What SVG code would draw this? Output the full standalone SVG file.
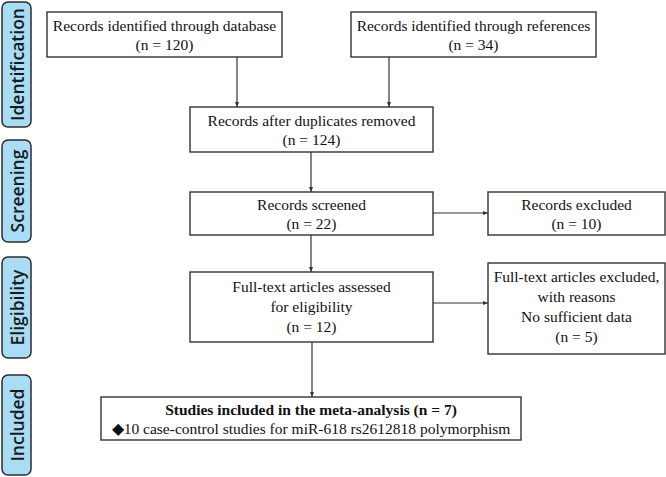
<svg xmlns="http://www.w3.org/2000/svg" width="666" height="477" viewBox="0 0 666 477">
<style>
.lab rect{fill:#a9ddf6;stroke:#2b2b2b;stroke-width:1.5}
.lab text{font-family:"Open Sans","DejaVu Sans",sans-serif;font-size:17.5px;font-weight:600;fill:#1a1a1a;text-anchor:middle;dominant-baseline:central}
.box rect{fill:#fff;stroke:#333;stroke-width:1.4}
.box text{font-family:"Liberation Serif","Times New Roman",serif;font-size:15.5px;fill:#111;text-anchor:middle}
.conn line{stroke:#333;stroke-width:1.2;marker-end:url(#ah)}
</style>
<defs>
<marker id="ah" markerWidth="6" markerHeight="6" refX="5" refY="3" orient="auto" markerUnits="userSpaceOnUse">
<path d="M0,1 L5,3 L0,5 z" fill="#333"/>
</marker>
</defs>
<rect width="666" height="477" fill="#fff"/>
<g id="label-identification" class="lab"><rect x="2" y="2" width="29" height="125" rx="6"/><text transform="translate(16.5,64.5) rotate(-90)">Identification</text></g>
<g id="label-screening" class="lab"><rect x="2" y="140" width="29" height="102" rx="6"/><text transform="translate(16.5,191) rotate(-90)">Screening</text></g>
<g id="label-eligibility" class="lab"><rect x="2" y="257" width="29" height="101" rx="6"/><text transform="translate(16.5,307.5) rotate(-90)">Eligibility</text></g>
<g id="label-included" class="lab"><rect x="2" y="375" width="29" height="100" rx="6"/><text transform="translate(16.5,425) rotate(-90)">Included</text></g>

<g class="conn">
<line x1="237" y1="57" x2="237" y2="107"/>
<line x1="389" y1="57" x2="389" y2="107"/>
<line x1="311" y1="152" x2="311" y2="192"/>
<line x1="433" y1="213" x2="488" y2="213"/>
<line x1="311" y1="235" x2="311" y2="272"/>
<line x1="433" y1="303" x2="488" y2="303"/>
<line x1="312" y1="342" x2="312" y2="397"/>
</g>

<g id="n1" class="box"><rect x="47" y="12" width="235" height="45"/><text x="164.5" y="31">Records identified through database</text><text x="164.5" y="50">(n = 120)</text></g>
<g id="n2" class="box"><rect x="351" y="12" width="245" height="45"/><text x="473.5" y="31">Records identified through references</text><text x="473.5" y="50">(n = 34)</text></g>
<g id="n3" class="box"><rect x="190" y="107" width="243" height="45"/><text x="311.5" y="126">Records after duplicates removed</text><text x="311.5" y="145">(n = 124)</text></g>
<g id="n4" class="box"><rect x="190" y="192" width="243" height="43"/><text x="311.5" y="210">Records screened</text><text x="311.5" y="229">(n = 22)</text></g>
<g id="n5" class="box"><rect x="488" y="192" width="177" height="43"/><text x="576.5" y="210">Records excluded</text><text x="576.5" y="229">(n = 10)</text></g>
<g id="n6" class="box"><rect x="190" y="272" width="243" height="70"/><text x="311.5" y="292">Full-text articles assessed</text><text x="311.5" y="312">for eligibility</text><text x="311.5" y="332">(n = 12)</text></g>
<g id="n7" class="box"><rect x="488" y="263" width="177" height="91"/><text x="576.5" y="282">Full-text articles excluded,</text><text x="576.5" y="302">with reasons</text><text x="576.5" y="322">No sufficient data</text><text x="576.5" y="342">(n = 5)</text></g>
<g id="n8" class="box"><rect x="101" y="397" width="420" height="43"/><text x="311" y="415" font-weight="bold">Studies included in the meta-analysis (n = 7)</text><text x="311" y="434">◆10 case-control studies for miR-618 rs2612818 polymorphism</text></g>
</svg>
